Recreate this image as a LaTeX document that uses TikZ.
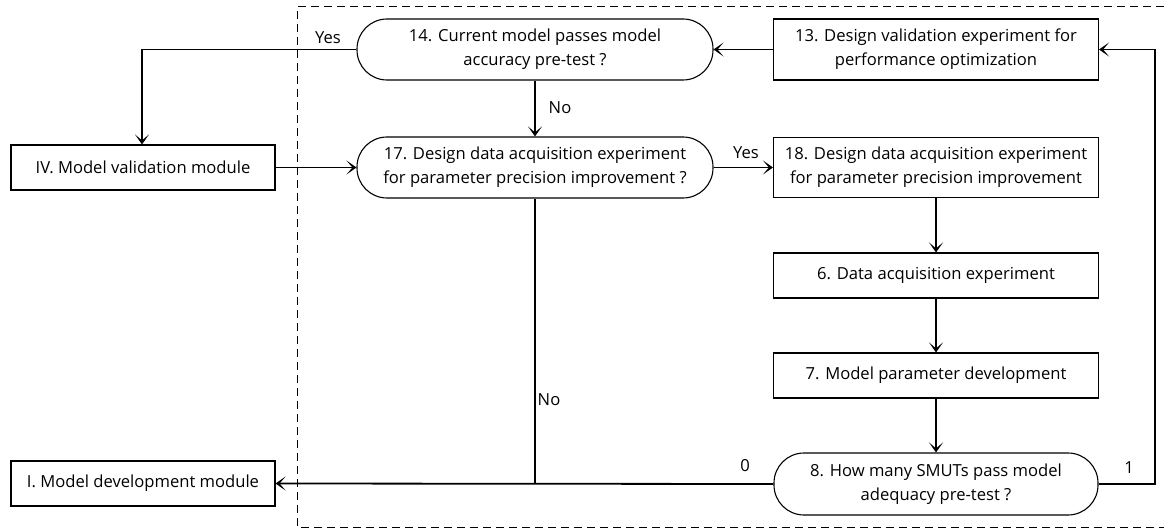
\documentclass[tikz,border=0pt]{standalone}
\usepackage{fontspec}
\setmainfont{Open Sans}
\usetikzlibrary{arrows.meta}

\begin{document}
\begin{tikzpicture}[x=1pt,y=-1pt,
  txt/.style={font=\fontsize{16.6}{24}\selectfont},
  box/.style={txt, draw, line width=1.1pt, align=center, inner sep=0pt},
  decision/.style={box, rounded corners=30pt},
  conn/.style={line width=1.2pt, -{Stealth[length=10pt, width=14pt, inset=6pt]}},
  lbl/.style={txt, inner sep=0pt}]
\useasboundingbox (0,0) rectangle (1164,529);

% module frame
\draw[dashed, line width=1pt, dash pattern=on 8pt off 5pt]
  (1164,7) -- (297,7) -- (297,527) -- (1164,527);

% outer modules
\node[box, minimum width=264pt, minimum height=45pt] (iv) at (143,167.5) {IV. Model validation module};
\node[box, minimum width=264pt, minimum height=45pt] (i) at (143,483.5) {I. Model development module};

% decisions
\node[decision, minimum width=356pt, minimum height=61pt] (d14) at (535,49.5)
  {14. Current model passes model\\accuracy pre-test ?};
\node[decision, minimum width=356pt, minimum height=61pt] (d17) at (535,167.5)
  {17. Design data acquisition experiment\\for parameter precision improvement ?};
\node[decision, minimum width=324pt, minimum height=62pt] (d8) at (936,484)
  {8. How many SMUTs pass model\\adequacy pre-test ?};

% process steps
\node[box, minimum width=325pt, minimum height=61pt] (s13) at (936,49.5)
  {13. Design validation experiment for\\performance optimization};
\node[box, minimum width=325pt, minimum height=60pt] (s18) at (936,167.5)
  {18. Design data acquisition experiment\\for parameter precision improvement};
\node[box, minimum width=325pt, minimum height=45pt] (s6) at (936,275.5)
  {6. Data acquisition experiment};
\node[box, minimum width=325pt, minimum height=45pt] (s7) at (936,375.5)
  {7. Model parameter development};

% junction points
\coordinate (yesturn) at (142,49.5);
\coordinate (nojoin) at (535,484);
\coordinate (rt) at (1155,484);
\coordinate (rtop) at (1155,49.5);

% connectors
\draw[conn] (d14.west) -- (yesturn) -- (iv.north -| yesturn);
\draw[conn] (s13.west) -- (d14.east);
\draw[conn] (d14.south) -- (d17.north);
\draw[conn] (iv.east) -- (d17.west);
\draw[conn] (d17.east) -- (s18.west);
\draw[conn] (s18.south) -- (s6.north);
\draw[conn] (s6.south) -- (s7.north);
\draw[conn] (s7.south) -- (d8.north);
\draw[line width=1.2pt] (d17.south) -- (nojoin);
\draw[conn, line width=1.8pt] (d8.west) -- (i.east);
\draw[conn] (d8.east) -- (rt) -- (rtop) -- (s13.east);

% branch labels
\node[lbl] at (328,38) {Yes};
\node[lbl] at (560,108) {No};
\node[lbl] at (746,153) {Yes};
\node[lbl] at (549,400) {No};
\node[lbl] at (745,466) {0};
\node[lbl] at (1129,468) {1};
\end{tikzpicture}
\end{document}
